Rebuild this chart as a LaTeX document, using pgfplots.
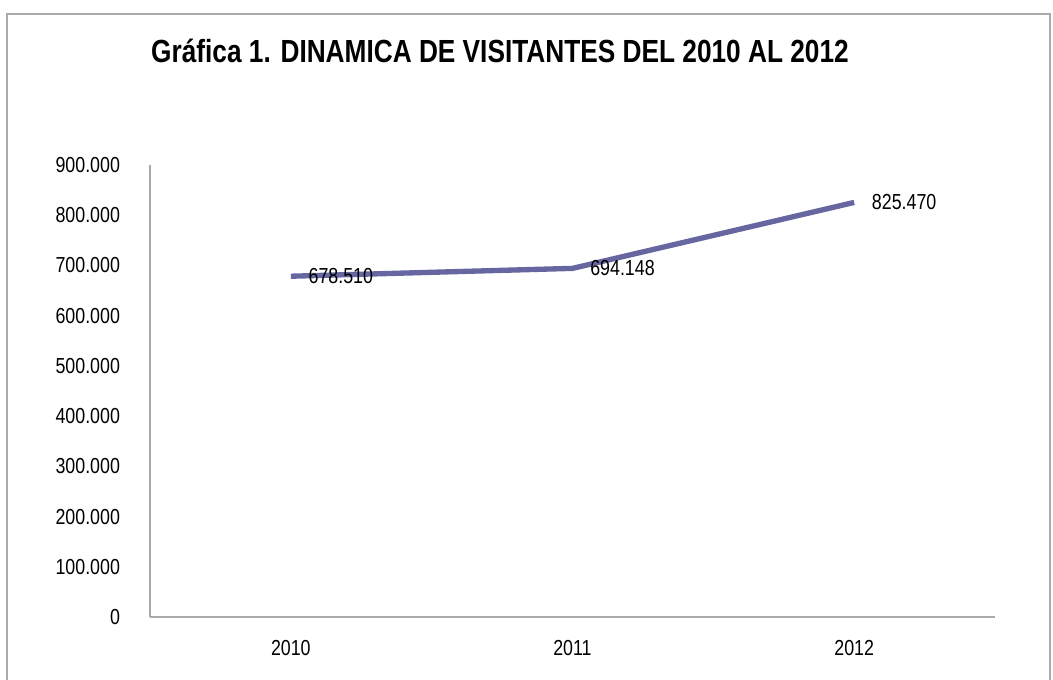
\documentclass[border=0pt]{standalone}
\usepackage{fontspec}
\setmainfont{Liberation Sans}[FakeStretch=0.82]
\usepackage{pgfplots}
\pgfplotsset{compat=1.18}
\definecolor{linec}{RGB}{102,102,160}
\definecolor{axc}{RGB}{170,170,170}
\begin{document}
\begin{tikzpicture}
\path[use as bounding box] (-112.5pt,-47.25pt) rectangle (677.25pt,462.75pt);
\draw[axc, line width=1pt] (-107.25pt,-47.25pt) -- (-107.25pt,452.25pt) -- (675pt,452.25pt) -- (675pt,-47.25pt);
\node[font=\bfseries\fontsize{24}{27}\selectfont] at (262.5pt,424.5pt) {Gráfica 1. DINAMICA DE VISITANTES DEL 2010 AL 2012};
\begin{axis}[
  at={(0pt,0pt)}, anchor=south west,
  scale only axis, width=633.75pt, height=339pt,
  xmin=-0.5, xmax=2.5, ymin=0, ymax=900000,
  axis x line=bottom, axis y line=left,
  axis line style={axc, line width=0.9pt, -},
  major tick length=0pt,
  xtick={0,1,2}, xticklabels={2010,2011,2012},
  ytick={0,100000,...,900000},
  scaled y ticks=false,
  /pgf/number format/.cd, fixed, 1000 sep={.}, assume math mode=true,
  /pgfplots/.cd,
  ticklabel style={font=\fontsize{16.3}{19}\selectfont},
  yticklabel style={xshift=-19pt},
  xticklabel style={yshift=-14pt},
  clip=false,
]
\addplot[linec, line width=4pt, line join=round,
  nodes near coords,
  nodes near coords style={anchor=west, xshift=8pt, black, font=\fontsize{16.3}{19}\selectfont,
    /pgf/number format/.cd, fixed, 1000 sep={.}, assume math mode=true},
] coordinates {(0,678510) (1,694148) (2,825470)};
\end{axis}
\end{tikzpicture}
\end{document}
